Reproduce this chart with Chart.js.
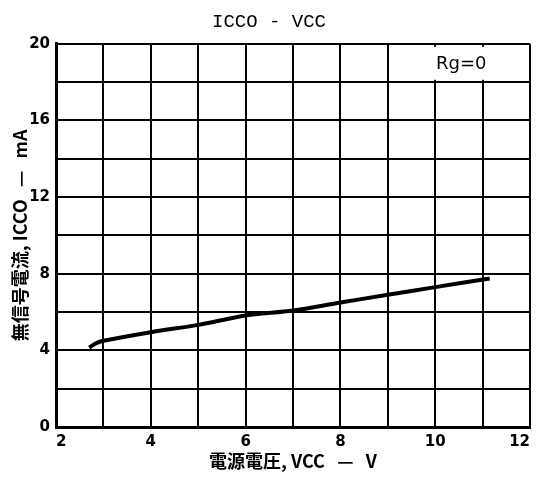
<!DOCTYPE html>
<html>
<head>
<meta charset="utf-8">
<script src="https://cdn.jsdelivr.net/npm/chart.js@4"></script>
<style>
html,body{margin:0;padding:0;background:#fff;}
#wrap{width:536px;height:482px;}
</style>
</head>
<body>
<div id="wrap"><canvas id="c" width="536" height="482"></canvas></div>
<script>
const vccValues = [2.7, 2.85, 3.0, 4.0, 5.0, 6.0, 7.0, 8.0, 9.0, 10.0, 11.15];
const iccoValues = [4.15, 4.38, 4.5, 4.95, 5.33, 5.82, 6.08, 6.5, 6.9, 7.3, 7.75];
const xTickLabels = [2, 4, 6, 8, 10, 12];
const yTickLabels = [0, 4, 8, 12, 16, 20];
const titleText = 'ICCO - VCC';
const xAxisTitle = '電源電圧, VCC   —   V';
const yAxisTitle = '無信号電流, ICCO   —   mA';
const noteText = 'Rg=0';

const notePlugin = {
  id: 'note',
  afterDatasetsDraw(chart) {
    const ctx = chart.ctx;
    const xs = chart.scales.x, ys = chart.scales.y;
    const x0 = xs.getPixelForValue(9.8), x1 = xs.getPixelForValue(11.93);
    const y0 = ys.getPixelForValue(19.85), y1 = ys.getPixelForValue(18.12);
    ctx.save();
    ctx.fillStyle = '#fff';
    ctx.fillRect(x0, y0, x1 - x0, y1 - y0);
    ctx.fillStyle = '#000';
    ctx.font = '18px "DejaVu Sans"';
    ctx.textAlign = 'center';
    ctx.textBaseline = 'middle';
    ctx.fillText(noteText, xs.getPixelForValue(10.55), ys.getPixelForValue(18.95));
    ctx.restore();
  }
};

const tickFont = {family: '"Liberation Sans Narrow", "DejaVu Sans"', size: 15, weight: 'bold'};

new Chart(document.getElementById('c'), {
  type: 'line',
  data: {
    datasets: [{
      data: vccValues.map((v, i) => ({x: v, y: iccoValues[i]})),
      borderColor: '#000',
      borderWidth: 4,
      pointRadius: 0,
      tension: 0.3,
      fill: false
    }]
  },
  options: {
    responsive: false,
    animation: false,
    devicePixelRatio: 1,
    layout: {padding: {left: 8, right: 6, top: 0, bottom: 0}},
    plugins: {
      legend: {display: false},
      tooltip: {enabled: false},
      title: {
        display: true,
        text: titleText,
        color: '#000',
        font: {family: '"Liberation Mono"', size: 19, weight: 'normal'},
        padding: {top: 11, bottom: 10}
      }
    },
    scales: {
      x: {
        type: 'linear',
        min: 2, max: 12,
        border: {color: '#000', width: 3},
        grid: {color: '#000', lineWidth: 2, drawTicks: false},
        afterFit: s => { s.paddingRight = 0; s.paddingLeft = 0; s.height = 55; },
        ticks: {
          stepSize: 1,
          color: '#000',
          padding: 6,
          align: 'inner',
          font: tickFont,
          callback: v => xTickLabels.includes(v) ? String(v) : ''
        },
        title: {
          display: true,
          text: xAxisTitle,
          color: '#000',
          font: {family: '"Noto Sans CJK JP"', size: 18, weight: 'bold'},
          padding: {top: 0, bottom: 10}
        }
      },
      y: {
        min: 0, max: 20,
        border: {color: '#000', width: 3},
        grid: {color: '#000', lineWidth: 2, drawTicks: false},
        afterFit: s => { s.width = 48; },
        ticks: {
          stepSize: 2,
          color: '#000',
          padding: 6,
          font: tickFont,
          callback: v => yTickLabels.includes(v) ? String(v) : ''
        },
        title: {
          display: true,
          text: yAxisTitle,
          color: '#000',
          font: {family: '"Noto Sans CJK JP"', size: 18, weight: 'bold'},
          padding: {top: 1, bottom: 0}
        }
      }
    }
  },
  plugins: [notePlugin]
});
</script>
</body>
</html>
